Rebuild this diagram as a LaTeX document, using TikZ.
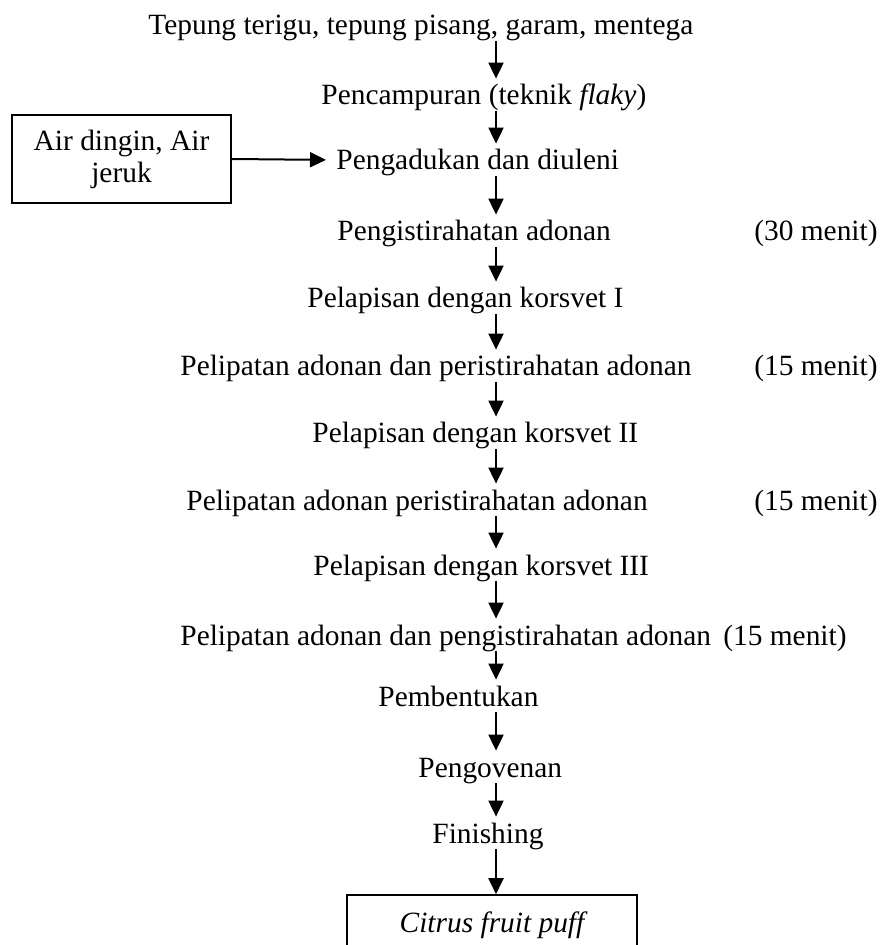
\documentclass[tikz,border=0pt]{standalone}
\usepackage{fontspec}
\setmainfont{Liberation Serif}
\usetikzlibrary{arrows.meta,positioning,calc}

\begin{document}
\begin{tikzpicture}[
  x=0.5pt, y=-0.5pt,
  font=\fontsize{14.7pt}{16pt}\selectfont,
  txt/.style={anchor=west, inner xsep=0pt, inner ysep=0pt, text height=13pt, text depth=3pt},
  lama/.style={txt, anchor=east},
  arr/.style={-{Triangle[length=8pt,width=7.5pt]}, line width=1pt},
  boxed/.style={draw, line width=0.8pt, align=center, inner sep=0pt}
]
\clip (0,0) rectangle (882,945);
\coordinate (col) at (496,0);
% bahan dan tahapan
\node[txt] (bahan) at (148,25) {Tepung terigu, tepung pisang, garam, mentega};
\node[txt] (campur) at (321,95) {Pencampuran (teknik \textit{flaky})};
\node[txt] (aduk) at (336,160) {Pengadukan dan diuleni};
\node[boxed, minimum width=109.5pt, minimum height=44pt] (air) at (121.5,159) {Air dingin, Air\\jeruk};
\node[txt] (istirahat) at (337,231) {Pengistirahatan adonan};
\node[lama] (lama1) at (878,231) {(30 menit)};
\node[txt] (lapis1) at (307,298) {Pelapisan dengan korsvet I};
\node[txt] (lipat1) at (180,366) {Pelipatan adonan dan peristirahatan adonan};
\node[lama] (lama2) at (878,366) {(15 menit)};
\node[txt] (lapis2) at (312,433) {Pelapisan dengan korsvet II};
\node[txt] (lipat2) at (186,500) {Pelipatan adonan peristirahatan adonan};
\node[lama] (lama3) at (878,500) {(15 menit)};
\node[txt] (lapis3) at (313,565) {Pelapisan dengan korsvet III};
\node[txt] (lipat3) at (180,635) {Pelipatan adonan dan pengistirahatan adonan};
\node[lama] (lama4) at (847,635) {(15 menit)};
\node[txt] (bentuk) at (378,696) {Pembentukan};
\node[txt] (oven) at (418,767) {Pengovenan};
\node[txt] (finish) at (432,833) {Finishing};
\node[boxed, minimum width=145pt, minimum height=30pt, font=\fontsize{14.7pt}{16pt}\selectfont\itshape] (puff) at (492,925) {Citrus fruit puff};
% panah
\draw[arr] (bahan.south -| col) -- (campur.north -| col);
\draw[arr] (campur.south -| col) -- (aduk.north -| col);
\draw[arr, shorten >=5pt] (air.east) -- (aduk.west);
\draw[arr] (aduk.south -| col) -- (istirahat.north -| col);
\draw[arr] (istirahat.south -| col) -- (lapis1.north -| col);
\draw[arr] (lapis1.south -| col) -- (lipat1.north -| col);
\draw[arr] (lipat1.south -| col) -- (lapis2.north -| col);
\draw[arr] (lapis2.south -| col) -- (lipat2.north -| col);
\draw[arr] (lipat2.south -| col) -- (lapis3.north -| col);
\draw[arr] (lapis3.south -| col) -- (lipat3.north -| col);
\draw[arr] (lipat3.south -| col) -- (bentuk.north -| col);
\draw[arr] (bentuk.south -| col) -- (oven.north -| col);
\draw[arr] (oven.south -| col) -- (finish.north -| col);
\draw[arr] (finish.south -| col) -- (puff.north -| col);
\end{tikzpicture}
\end{document}
